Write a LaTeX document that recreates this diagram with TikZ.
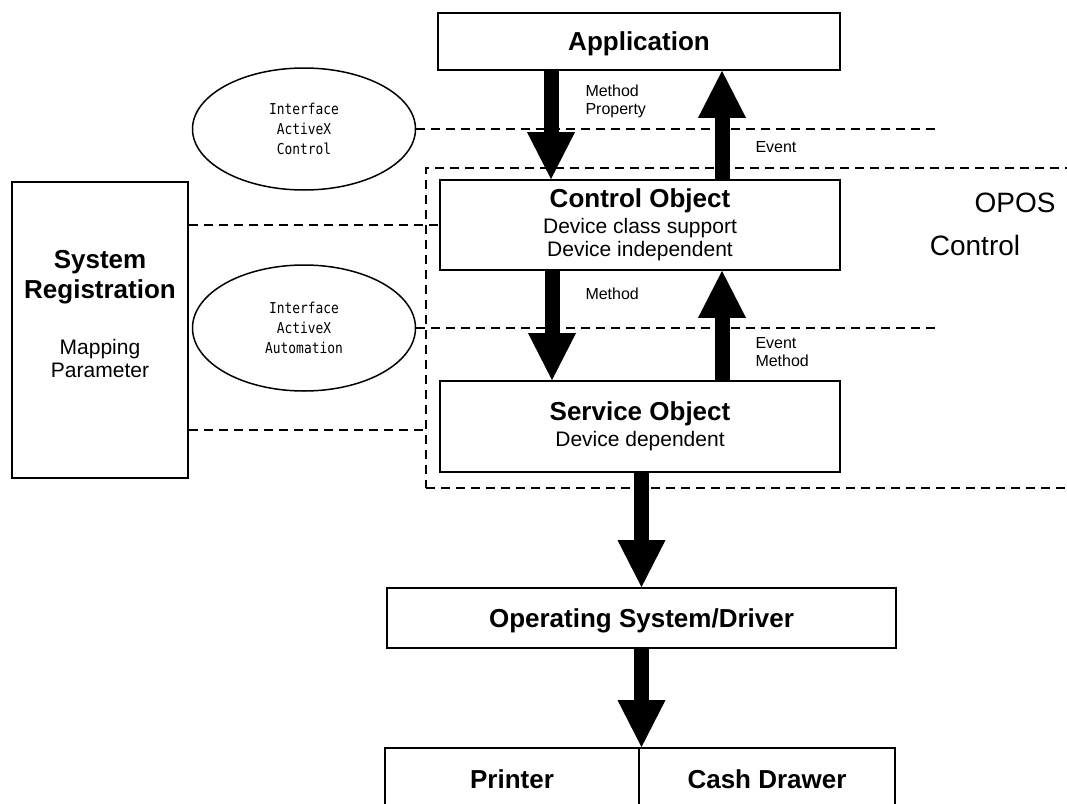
\documentclass[tikz,border=0pt]{standalone}
\usepackage{fontspec}
\setmainfont{Liberation Sans}
\newfontfamily\ifacefont[FakeStretch=0.86]{DejaVu Sans Mono}
\usetikzlibrary{arrows.meta}
\usetikzlibrary{shapes.geometric}
\usetikzlibrary{positioning}
\tikzset{box/.style = {draw, line width=1.8pt, inner sep=0pt, align=center}}
\tikzset{tagbox/.style = {box, text height=18.6pt, text depth=0pt, font=\bigbold}}
\tikzset{iface/.style = {draw, ellipse, line width=1.5pt, inner sep=0pt, align=center,
                         minimum width=223pt, font=\ifacefont\fontsize{15}{20}\selectfont}}
\tikzset{dashline/.style = {line width=1.4pt, dash pattern=on 9pt off 6pt}}
\tikzset{fatarrow/.style = {line width=15pt, -{Triangle[width=48pt, length=47pt, line width=0pt]}}}
\tikzset{flowlabel/.style = {anchor=west, inner sep=0pt, align=left,
                             font=\fontsize{16}{18.5}\selectfont}}
\newcommand{\bigbold}{\fontsize{26}{28}\selectfont\bfseries}
\newcommand{\subtext}{\fontsize{21}{23}\selectfont}

\begin{document}
\begin{tikzpicture}[x=1pt, y=-1pt]
    \useasboundingbox (0, 0) rectangle (1067, 803);
    \clip (0, 0) rectangle (1067, 803);

    \node [draw, dashline, minimum width=674pt, minimum height=320pt] (oposframe) at (763, 328) {};
    \node [font=\fontsize{28}{30}\selectfont] (opostag) at (1015, 203) {OPOS};
    \node [font=\fontsize{28}{30}\selectfont] (ctrltag) at (975, 245) {Control};

    \node [tagbox, minimum width=402pt, minimum height=57pt] (app) at (639, 41.5) {Application};
    \node [box, minimum width=400pt, minimum height=90pt, font=\subtext] (co) at (640, 225)
          {{\bigbold Control Object}\\[2.5pt] Device class support\\ Device independent};
    \node [box, minimum width=400pt, minimum height=91pt, font=\subtext] (so) at (640, 426.5)
          {{\bigbold Service Object}\\[2.5pt] Device dependent};
    \node [tagbox, minimum width=509pt, minimum height=60pt] (os) at (641.5, 618) {Operating System/Driver};
    \node [tagbox, minimum width=254pt, minimum height=62pt] (printer) at (512, 779) {Printer};
    \node [tagbox, minimum width=256pt, minimum height=62pt] (drawer) at (767, 779) {Cash Drawer};

    \node [box, minimum width=176pt, minimum height=296pt] (sysreg) at (100, 330) {};
    \node [align=center, inner sep=0pt, font=\subtext] (sysregtext) at (100, 314)
          {{\bigbold System}\\[5pt] {\bigbold Registration}\\[32.5pt] Mapping\\ Parameter};

    \node [iface, minimum height=122pt] (ctrliface) at (304, 129) {Interface\\ ActiveX\\ Control};
    \node [iface, minimum height=126pt] (autoiface) at (304, 328) {Interface\\ ActiveX\\ Automation};

    \coordinate (dashend) at (938, 0);
    \draw [dashline] (ctrliface.east) -- (ctrliface.east -| dashend);
    \draw [dashline] (autoiface.east) -- (autoiface.east -| dashend);
    \draw [dashline] (sysreg.east |- co.west) -- (co.west);
    \draw [dashline] ([yshift=-3.5pt]sysreg.east |- so.west) -- ([yshift=-3.5pt]oposframe.west |- so.west);

    \draw [fatarrow] ([xshift=-88pt]app.south) -- ([xshift=-88pt]app.south |- co.north)
          node [flowlabel, pos=0.28, xshift=27pt] (calllabel) {Method\\ Property};
    \draw [fatarrow] ([xshift=83pt]app.south |- co.north) -- ([xshift=83pt]app.south)
          node [flowlabel, pos=0.3, xshift=26pt] (eventlabel) {Event};
    \draw [fatarrow] ([xshift=-88pt]co.south) -- ([xshift=-88pt]co.south |- so.north)
          node [flowlabel, pos=0.21, xshift=26pt] (methodlabel) {Method};
    \draw [fatarrow] ([xshift=82pt]so.north) -- ([xshift=82pt]co.south)
          node [flowlabel, pos=0.255, xshift=26pt] (backlabel) {Event\\ Method};
    \draw [fatarrow] (so.south -| os.north) -- (os.north);
    \draw [fatarrow] (os.south) -- (os.south |- printer.north);
\end{tikzpicture}
\end{document}
